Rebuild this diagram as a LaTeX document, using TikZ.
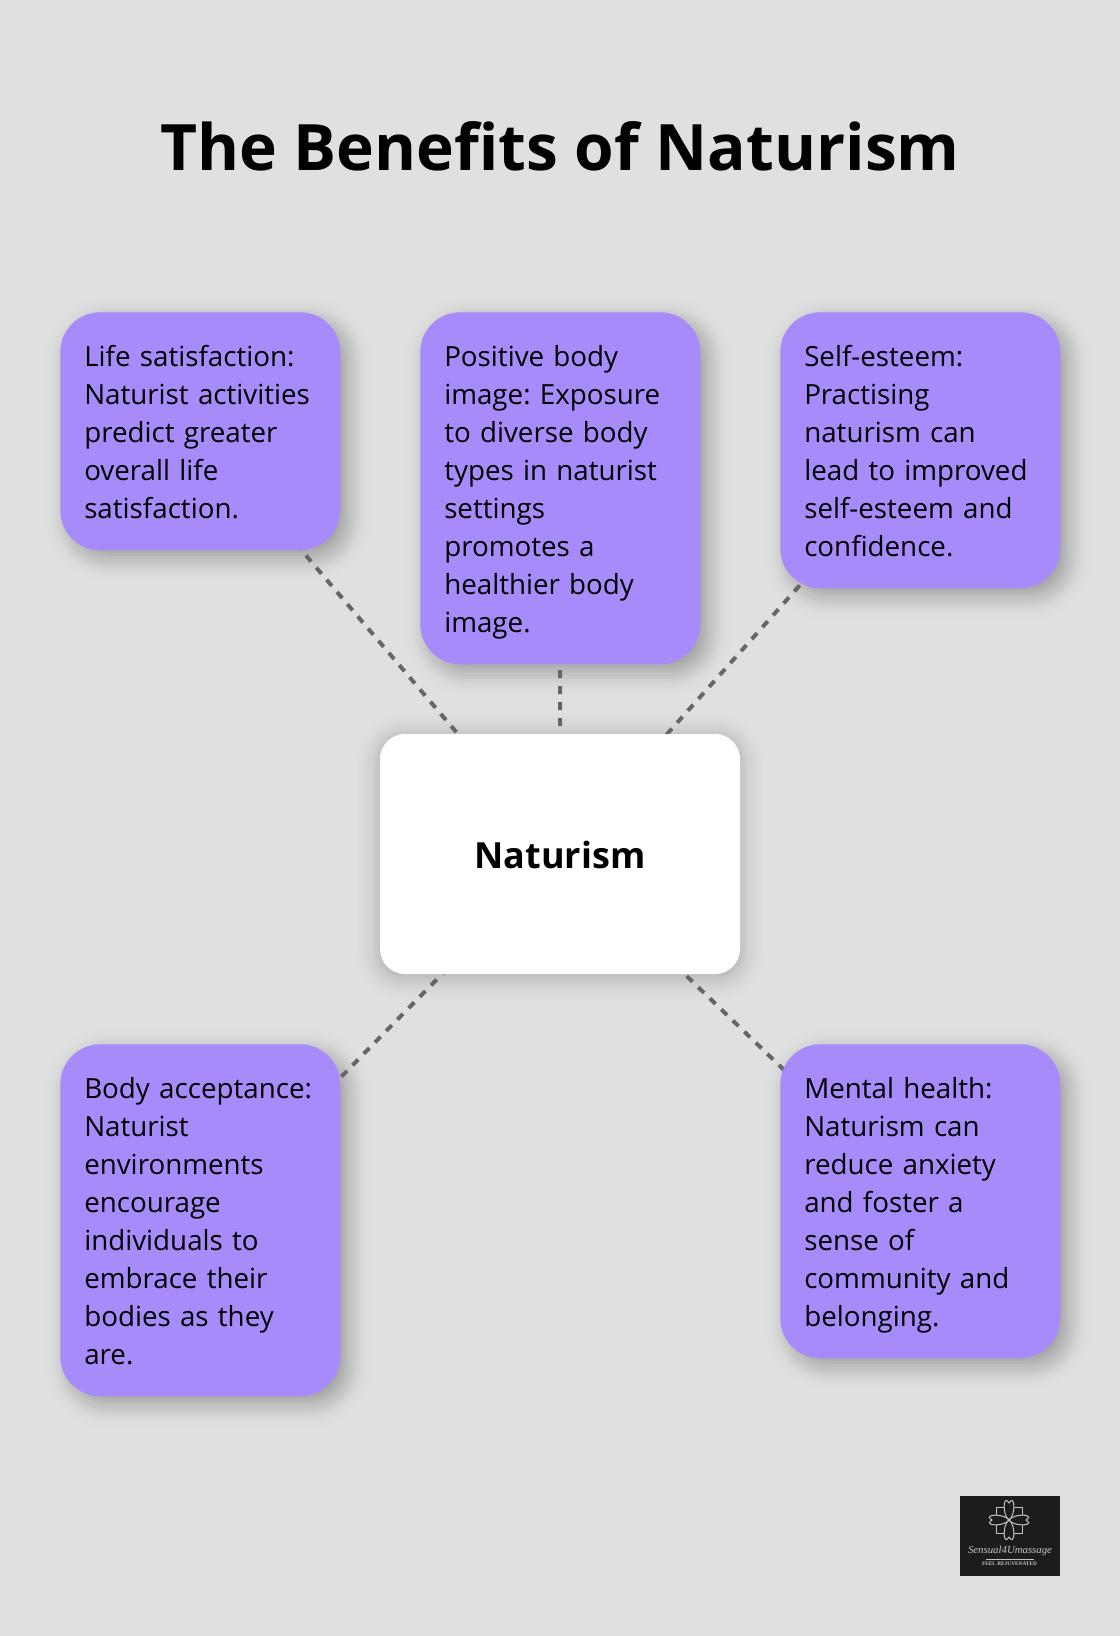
\documentclass[tikz,border=0pt]{standalone}
\usepackage{fontspec}
\setmainfont{Open Sans}
\newfontfamily\logoserif{Liberation Serif}
\usetikzlibrary{backgrounds,calc}
\definecolor{pagegray}{HTML}{DEE1E0}
\definecolor{violetbox}{HTML}{A78BFA}
\definecolor{linkgray}{HTML}{666666}
\definecolor{logoblack}{HTML}{1C1C1C}
\definecolor{logoline}{HTML}{C4C4C4}
\newcommand{\linestrut}{\vrule height 22.5pt depth 6pt width 0pt}
% layered fills stand in for a blurred shadow
\newcommand{\softshadow}[4]{%
  \foreach \g in {-24,-21,...,24} {
    \pgfmathsetmacro{\rad}{max(#2+\g,1)*0.75}
    \pgfmathsetmacro{\wgt}{#4*3*exp(-\g*\g/(2*#3*#3))/(#3*2.5066)}
    \fill[black, fill opacity=\wgt, rounded corners=\rad pt]
      ($(#1.north west)+(\shx-\g,\shy-\g)$) rectangle ($(#1.south east)+(\shx+\g,\shy+\g)$);
  }}
\tikzset{
  benefit/.style={fill=violetbox, rounded corners=30pt, anchor=north west, text width=174pt,
    inner xsep=18pt, inner ysep=18pt, align=left, font=\fontsize{20.8pt}{28.5pt}\selectfont\frenchspacing,
    execute at begin node=\linestrut, execute at end node=\linestrut},
  hub/.style={fill=white, rounded corners=18.75pt, minimum width=270pt, minimum height=180pt,
    inner sep=0pt, text height=21pt, text depth=0pt, font=\fontsize{27pt}{32pt}\selectfont\bfseries},
  link/.style={draw=linkgray, line width=3pt, dash pattern=on 6pt off 6pt},
  petal/.style={draw=logoline, line width=0.75pt, line join=round}
}
\begin{document}
\begin{tikzpicture}[x=0.75pt,y=-0.75pt]
  \useasboundingbox (0,0) rectangle (1120,1636);

  \node[font=\fontsize{48pt}{60pt}\selectfont\bfseries] (title) at (560,146) {The Benefits of Naturism};

  \node[hub] (naturism) at (560,854) {Naturism};

  \node[benefit] (life) at (60,312) {Life satisfaction:\\Naturist activities\\predict greater\\overall life\\satisfaction.};
  \node[benefit] (image) at (420,312) {Positive body\\image: Exposure\\to diverse body\\types in naturist\\settings\\promotes a\\healthier body\\image.};
  \node[benefit] (esteem) at (780,312) {Self-esteem:\\Practising\\naturism can\\lead to improved\\self-esteem and\\confidence.};
  \node[benefit] (acceptance) at (60,1044) {Body acceptance:\\Naturist\\environments\\encourage\\individuals to\\embrace their\\bodies as they\\are.};
  \node[benefit] (mental) at (780,1044) {Mental health:\\Naturism can\\reduce anxiety\\and foster a\\sense of\\community and\\belonging.};

  \begin{pgfonlayer}{background}
    \fill[pagegray] (0,0) rectangle (1120,1636);
    \def\shx{8}\def\shy{8}
    \foreach \n in {life,image,esteem,acceptance,mental} {
      \softshadow{\n}{40}{11}{0.3}
    }
    \def\shx{0}\def\shy{3}
    \softshadow{naturism}{25}{13}{0.24}
    \foreach \n in {life,image,esteem,acceptance,mental} {
      \draw[link] (naturism.center) -- (\n.center);
    }
  \end{pgfonlayer}

  % logo, bottom right
  \node[fill=logoblack, minimum width=75pt, minimum height=60pt, inner sep=0pt] (logo) at (1010,1536) {};
  \coordinate (flower) at (1009,1520);
  \foreach \a in {0,90,180,270} {
    \draw[petal, rotate around={\a:(flower)}] (flower) -- +(-13,0) -- +(-13,-13) -- +(0,-13) -- cycle;
  }
  \foreach \a in {0,90,180,270} {
    \draw[petal, fill=logoblack, rotate around={\a:(flower)}] (flower) .. controls +(-7,-5) and +(-6,-10) .. +(0,-17)
      .. controls +(6,-10) and +(7,-5) .. (flower);
  }
  \node[font=\logoserif\fontsize{8.1pt}{9pt}\selectfont\itshape, text=logoline, inner sep=0pt] (logoname) at (1010,1551) {Sensual4Umassage};
  \draw[logoline, line width=0.3pt] (986,1559) -- (1034,1559);
  \node[font=\logoserif\fontsize{4pt}{5pt}\selectfont\bfseries, text=logoline, inner sep=0pt] (logotag) at (1009.5,1564) {FEEL REJUVENATED};
\end{tikzpicture}
\end{document}
